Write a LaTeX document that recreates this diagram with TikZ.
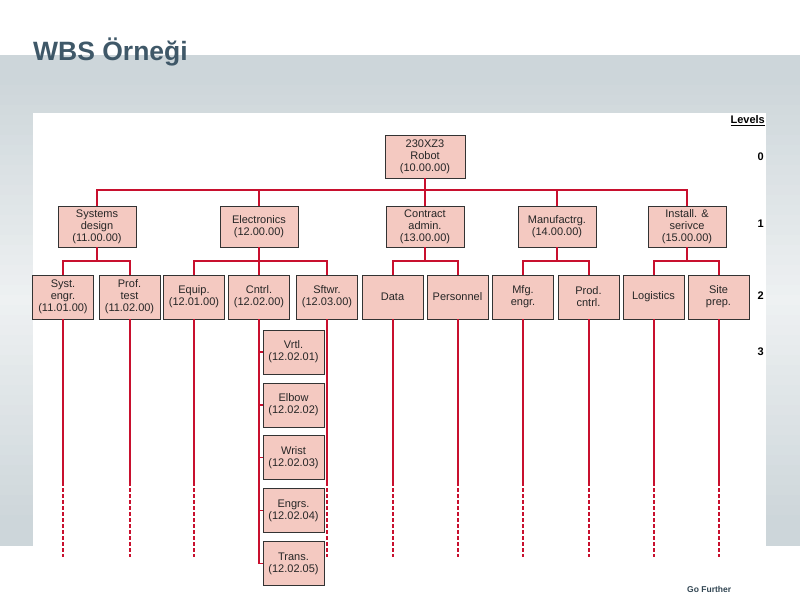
\documentclass[tikz,border=0pt]{standalone}
\usepackage{fontspec}
\setmainfont{Liberation Sans}
\usetikzlibrary{calc}

\definecolor{wbsred}{HTML}{C8102E}
\definecolor{wbsfill}{HTML}{F4C9C1}
\definecolor{titleblue}{HTML}{3F5868}
\definecolor{bandtop}{HTML}{CDD6DA}
\definecolor{bandmid}{HTML}{EEF1F2}

\begin{document}
\begin{tikzpicture}[x=1pt,y=-1pt,
		box/.style={draw=black!80, fill=wbsfill, line width=0.8pt, inner sep=0pt, align=center, text=black!85, font=\fontsize{11}{12}\selectfont},
		lvlzero/.style={box, minimum width=80pt, minimum height=43pt},
		lvlone/.style={box, minimum width=78pt, minimum height=41pt},
		lvltwo/.style={box, minimum width=61pt, minimum height=44pt},
		link/.style={draw=wbsred, line width=2pt},
		thinlink/.style={draw=wbsred, line width=1.2pt},
		levelno/.style={anchor=east, inner sep=0pt, font=\bfseries\fontsize{11}{12}\selectfont}]
		\useasboundingbox (0,0) rectangle (800,600);
		
		% slide background
		\fill [white] (0,0) rectangle (800,600);
		\foreach \i in {0,...,48}{
			\pgfmathsetmacro\bandpct{min(100,100*abs(\i-24)/22)}
			\fill [bandtop!\bandpct!bandmid] (0,55+10*\i) rectangle (800,65.5+10*\i);
		}
		\fill [white] (33,113) rectangle (766,600);
		\node [anchor=base west, inner sep=0pt, text=titleblue, font=\bfseries\fontsize{26.5}{30}\selectfont] (title) at (33,60) {WBS Örneği};
		\node [anchor=west, inner sep=0pt, text=titleblue!80!black, font=\bfseries\fontsize{8.5}{10}\selectfont] (gofurther) at (687,589) {Go Further};
		
		% levels column
		\node [levelno] (levels) at (765,121) {\underline{Levels}};
		\node [levelno] (lzero) at (764,157) {0};
		\node [levelno] (lone) at (764,224) {1};
		\node [levelno] (ltwo) at (764,296) {2};
		\node [levelno] (lthree) at (764,352) {3};
		
		% level 0 and 1
		\node [lvlzero] (robot) at (425,156.5) {230XZ3\\Robot\\(10.00.00)};
		\node [lvlone] (sys) at (97,226.5) {Systems\\design\\(11.00.00)};
		\node [lvlone] (elec) at (259,226.5) {Electronics\\(12.00.00)};
		\node [lvlone] (cont) at (425,226.5) {Contract\\admin.\\(13.00.00)};
		\node [lvlone] (manu) at (557,226.5) {Manufactrg.\\(14.00.00)};
		\node [lvlone] (inst) at (687,226.5) {Install. \&\\serivce\\(15.00.00)};
		
		% level 2
		\node [lvltwo] (syst) at (63,297) {Syst.\\engr.\\(11.01.00)};
		\node [lvltwo] (prof) at (129.5,297) {Prof.\\test\\(11.02.00)};
		\node [lvltwo] (equip) at (194,297) {Equip.\\(12.01.00)};
		\node [lvltwo] (cntrl) at (259,297) {Cntrl.\\(12.02.00)};
		\node [lvltwo] (sftwr) at (327,297) {Sftwr.\\(12.03.00)};
		\node [lvltwo] (data) at (392.5,297) {Data};
		\node [lvltwo] (pers) at (457.5,297) {Personnel};
		\node [lvltwo] (mfg) at (523,297) {Mfg.\\engr.};
		\node [lvltwo] (prod) at (588.5,297) {Prod.\\cntrl.};
		\node [lvltwo] (logi) at (653.5,297) {Logistics};
		\node [lvltwo] (site) at (718.5,297) {Site\\prep.};
		
		% level 3
		\node [lvltwo] (vrtl) at (293.5,352) {Vrtl.\\(12.02.01)};
		\node [lvltwo] (elbow) at (293.5,405) {Elbow\\(12.02.02)};
		\node [lvltwo] (wrist) at (293.5,457.5) {Wrist\\(12.02.03)};
		\node [lvltwo] (engrs) at (293.5,510.5) {Engrs.\\(12.02.04)};
		\node [lvltwo] (trans) at (293.5,563.5) {Trans.\\(12.02.05)};
		
		% connectors
		\draw [link] (robot.south) -- ++(0,12) -| (sys.north);
		\draw [link] (robot.south) -- ++(0,12) -| (inst.north);
		\draw [link] (robot.south) -- ++(0,12) -| (elec.north);
		\draw [link] (robot.south) -- ++(0,12) -| (manu.north);
		\draw [link] (robot.south) -- (cont.north);
		
		\draw [link] (sys.south) -- ++(0,14) -| (syst.north);
		\draw [link] (sys.south) -- ++(0,14) -| (prof.north);
		\draw [link] (elec.south) -- ++(0,14) -| (equip.north);
		\draw [link] (elec.south) -- ++(0,14) -| (sftwr.north);
		\draw [link] (elec.south) -- (cntrl.north);
		\draw [link] (cont.south) -- ++(0,14) -| (data.north);
		\draw [link] (cont.south) -- ++(0,14) -| (pers.north);
		\draw [link] (manu.south) -- ++(0,14) -| (mfg.north);
		\draw [link] (manu.south) -- ++(0,14) -| (prod.north);
		\draw [link] (inst.south) -- ++(0,14) -| (logi.north);
		\draw [link] (inst.south) -- ++(0,14) -| (site.north);
		
		\foreach \sub in {vrtl,elbow,wrist,engrs,trans}
			\draw [thinlink] (cntrl.south) |- (\sub.west);
		
		\foreach \leaf in {syst,prof,equip,sftwr,data,pers,mfg,prod,logi,site}{
			\draw [link] (\leaf.south) -- ++(0,163) coordinate (\leaf end);
			\draw [link, dash pattern=on 4pt off 2pt] (\leaf end) -- ++(0,75);
		}
		
\end{tikzpicture}
\end{document}
